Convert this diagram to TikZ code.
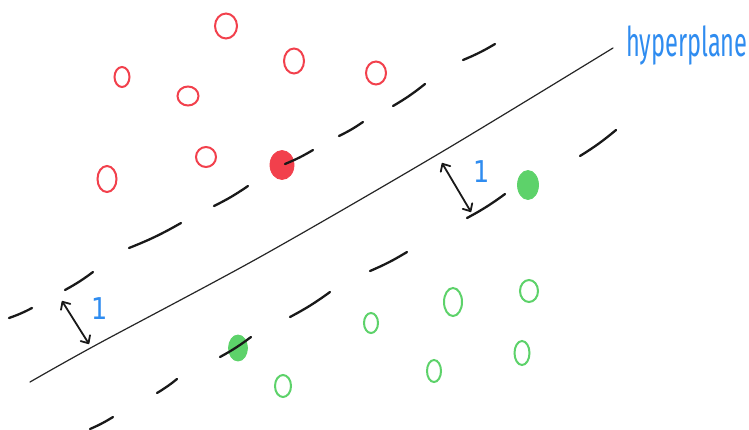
\documentclass[tikz,border=0pt]{standalone}
\usepackage{fontspec}
\setsansfont{Fira Sans}
\newfontfamily\onefont{DejaVu Sans}
\usetikzlibrary{arrows.meta,shapes.geometric}
\definecolor{dotred}{HTML}{F2404C}
\definecolor{dotgreen}{HTML}{5DD26A}
\definecolor{lblue}{HTML}{2F8CF0}
\tikzset{
  dashstroke/.style={line width=2.3pt, line cap=round, black!90},
  plane/.style={line width=1.2pt, line cap=round, black!85},
  redring/.style={draw=dotred, line width=2pt},
  greenring/.style={draw=dotgreen, line width=2pt},
  reddot/.style={fill=dotred, draw=dotred, line width=0.8pt},
  greendot/.style={fill=dotgreen, draw=dotgreen, line width=0.8pt},
  gap/.style={line width=1.8pt, line cap=round, black!90, {Straight Barb[length=6pt,width=11pt,round]}-{Straight Barb[length=6pt,width=11pt,round]}},
  onelbl/.style={text=lblue, font=\onefont\fontsize{30}{30}\selectfont, inner sep=0pt, xscale=0.85},
}
\begin{document}
\begin{tikzpicture}[x=1pt,y=-1pt]
\useasboundingbox (0,0) rectangle (749,429);
\fill[white] (0,0) rectangle (749,429);

% hyperplane
\draw[plane] plot[smooth, tension=0.5] coordinates {(30,382) (96,345) (260,257) (440,153) (613,48)};

% upper margin dashes
\foreach \xa/\ya/\xb/\yb in {9/318/32/308, 65/290/93/272, 129/248/181/223, 214/206/248/186, 339/136/363/122, 393/106/425/84, 463/60/495/44}
  \draw[dashstroke] (\xa,\ya) to[bend right=4] (\xb,\yb);

% lower margin dashes
\foreach \xa/\ya/\xb/\yb in {90/429/113/417, 157/393/177/379, 290/317/330/292, 370/271/407/252, 467/218/505/194, 580/156/616/130}
  \draw[dashstroke] (\xa,\ya) to[bend right=4] (\xb,\yb);

% red open points
\draw[redring] (226,26) ellipse [x radius=11, y radius=12.5];
\draw[redring] (294,61) ellipse [x radius=10, y radius=12.5];
\draw[redring] (376,73) ellipse [x radius=10, y radius=11.5];
\draw[redring] (122,77) ellipse [x radius=7.5, y radius=10];
\draw[redring] (188,96) ellipse [x radius=10.5, y radius=9.5];
\draw[redring] (206,157) ellipse [x radius=10, y radius=10];
\draw[redring] (107,179) ellipse [x radius=9.5, y radius=13];

% green open points
\draw[greenring] (371,323) ellipse [x radius=7, y radius=10];
\draw[greenring] (283,386) ellipse [x radius=8, y radius=11];
\draw[greenring] (453,302) ellipse [x radius=9, y radius=14];
\draw[greenring] (529,291) ellipse [x radius=9, y radius=11];
\draw[greenring] (522,353) ellipse [x radius=7.5, y radius=12];
\draw[greenring] (434,371) ellipse [x radius=7, y radius=11];

% support vectors
\node[reddot, ellipse, minimum width=24pt, minimum height=29pt, inner sep=0pt] (svred) at (282,165) {};
\node[greendot, ellipse, minimum width=21pt, minimum height=29pt, inner sep=0pt] (svgreenA) at (528,185) {};
\node[greendot, ellipse, minimum width=19pt, minimum height=26pt, inner sep=0pt] (svgreenB) at (238,348) {};
% dashes crossing the support vectors
\draw[dashstroke] (285,164) to[bend right=4] (313,150);
\draw[dashstroke] (220,357) to[bend right=4] (251,337);

% margin arrows
\coordinate (la) at (62,301);
\coordinate (lb) at (89,344);
\coordinate (ra) at (442,163);
\coordinate (rb) at (471,212);
\draw[gap] (la) -- (lb);
\draw[gap] (ra) -- (rb);
\node[onelbl] (one1) at (100,309) {1};
\node[onelbl] (one2) at (482,172) {1};

% label
\node[anchor=base west, text=lblue, inner sep=0pt, font=\sffamily\fontsize{41}{41}\selectfont, xscale=0.575] (hp) at (626,56) {hyperplane};
\end{tikzpicture}
\end{document}
